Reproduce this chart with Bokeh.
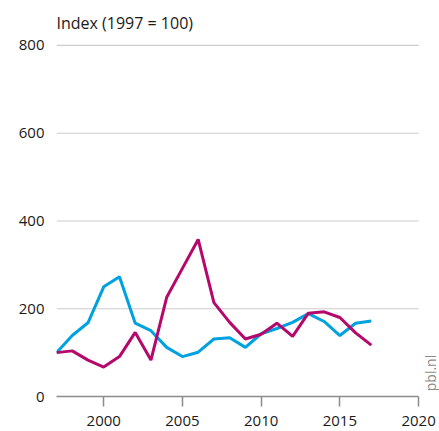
from bokeh.plotting import figure
from bokeh.models import ColumnDataSource, Range1d, FixedTicker, Label
from bokeh.embed import file_html
from bokeh.resources import INLINE
import math

years = list(range(1997, 2018))
series_blue = [100, 139, 168, 250, 273, 167, 150, 112, 91, 101, 131, 134,
               112, 143, 155, 169, 189, 171, 139, 167, 172]
series_magenta = [100, 104, 83, 67, 91, 146, 83, 226, 292, 358, 214, 169,
                  131, 142, 167, 137, 190, 193, 180, 145, 117]
x_ticks = [2000, 2005, 2010, 2015, 2020]
y_ticks = [0, 200, 400, 600, 800]
title_text = "Index (1997 = 100)"
source_text = "pbl.nl"

FONT = "Open Sans"
TEXT = "#1a1a1a"
X_START, X_END = 1997, 2020

src = ColumnDataSource(dict(year=years, blue=series_blue, magenta=series_magenta))

p = figure(width=439, height=431, output_backend="svg", toolbar_location=None,
           x_range=Range1d(1997, 2021.33), y_range=Range1d(0, 804.5),
           min_border_left=56, min_border_right=0, min_border_top=42,
           min_border_bottom=35, outline_line_color=None,
           background_fill_color="white", border_fill_color="white")

p.title.text = title_text
p.title.align = "left"
p.title.text_font = FONT
p.title.text_font_size = "16px"
p.title.text_font_style = "normal"
p.title.text_color = TEXT
p.title.standoff = 19

# horizontal gridlines, limited to the axis span
grid_y = [t for t in y_ticks if t > 0]
grid_src = ColumnDataSource(dict(x0=[X_START] * len(grid_y), x1=[X_END] * len(grid_y),
                                 y=grid_y))
p.segment(x0="x0", x1="x1", y0="y", y1="y", source=grid_src,
          line_color="#cccccc", line_width=1.2)

p.line("year", "blue", source=src, line_color="#00a1e1", line_width=3)
p.line("year", "magenta", source=src, line_color="#b5086b", line_width=3)

p.xaxis.ticker = FixedTicker(ticks=x_ticks)
p.yaxis.ticker = FixedTicker(ticks=y_ticks)
p.xgrid.grid_line_color = None
p.ygrid.grid_line_color = None

for ax in p.yaxis:
    ax.axis_line_color = None
    ax.major_tick_line_color = None
    ax.minor_tick_line_color = None
    ax.major_label_text_font = FONT
    ax.major_label_text_font_size = "15px"
    ax.major_label_text_color = TEXT
    ax.major_label_standoff = 6

for ax in p.xaxis:
    ax.bounds = (X_START, X_END)
    ax.axis_line_color = "#8c8c8c"
    ax.axis_line_width = 1.5
    ax.major_tick_line_color = "#8c8c8c"
    ax.major_tick_line_width = 1.5
    ax.major_tick_in = 0
    ax.major_tick_out = 10
    ax.minor_tick_line_color = None
    ax.major_label_text_font = FONT
    ax.major_label_text_font_size = "15px"
    ax.major_label_text_color = TEXT
    ax.major_label_standoff = 9

p.add_layout(Label(x=2020.76, y=12, text=source_text, angle=math.pi / 2,
                   text_font=FONT, text_font_size="14px", text_color="#8c8c8c",
                   text_baseline="middle", text_align="left"))

open("out.html", "w").write(file_html(p, INLINE))
